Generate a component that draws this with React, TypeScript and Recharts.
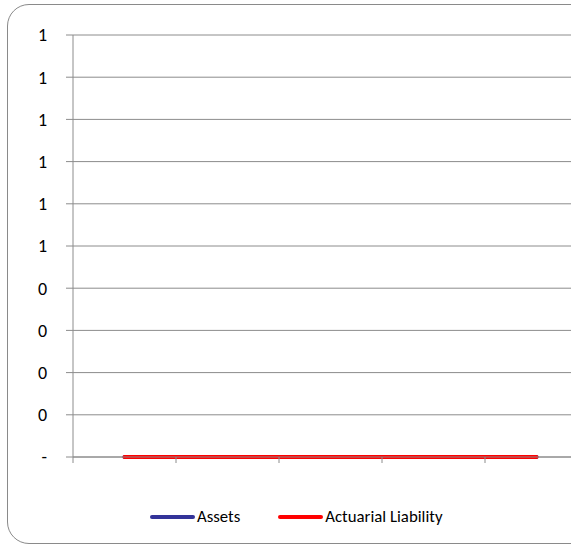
import { CartesianGrid, Legend, Line, LineChart, XAxis, YAxis } from "recharts";

// five periods, no labels shown on the axis
const positions = [0.5, 1.5, 2.5, 3.5, 4.5];
const assets = [0, 0, 0, 0, 0];
const liability = [0, 0, 0, 0, 0];
const yTicks = [0, 0.1, 0.2, 0.3, 0.4, 0.5, 0.6, 0.7, 0.8, 0.9, 1];
const xTicks = [0, 1, 2, 3, 4, 5];

const series = [
  { key: "assets", name: "Assets", color: "#333399" },
  { key: "liability", name: "Actuarial Liability", color: "#ff0000" },
];

const data = positions.map((p, i) => ({ pos: p, assets: assets[i], liability: liability[i] }));

const font = "Carlito, Calibri, Lato, sans-serif";

function ChartLegend() {
  return (
    <div style={{ display: "flex", justifyContent: "flex-start", paddingLeft: 150, paddingTop: 19, fontFamily: font, fontSize: 16.8, color: "#000" }}>
      {series.map((s, i) => (
        <div key={s.key} style={{ display: "flex", alignItems: "center", marginRight: i === 0 ? 38 : 0 }}>
          <span style={{ width: 45, height: 4, borderRadius: 2, background: s.color, display: "inline-block", marginRight: 2 }} />
          <span>{s.name}</span>
        </div>
      ))}
    </div>
  );
}

export default function App() {
  return (
    <div style={{ position: "fixed", left: 0, top: 0, width: 571, height: 546, overflow: "hidden", background: "#fff" }}>
      <div
        style={{
          position: "absolute",
          left: 7,
          top: 4,
          width: 700,
          height: 540,
          border: "1px solid #8a8a8a",
          borderRadius: 22,
          boxSizing: "border-box",
        }}
      />
      <div style={{ position: "absolute", left: 0, top: 0 }}>
        <LineChart width={600} height={546} data={data} margin={{ top: 35, right: 12, bottom: 0, left: 0 }}>
          <CartesianGrid vertical={false} stroke="#8c8c8c" strokeWidth={1} />
          <XAxis
            type="number"
            dataKey="pos"
            domain={[0, 5]}
            ticks={xTicks}
            tickFormatter={() => ""}
            stroke="#8c8c8c"
            tickSize={6}
            height={30}
          />
          <YAxis
            domain={[0, 1]}
            ticks={yTicks}
            width={73}
            stroke="#8c8c8c"
            tickSize={7}
            tickMargin={19}
            tickFormatter={(v: number) => (v === 0 ? "-" : String(Math.round(v + 1e-9)))}
            tick={{ fill: "#000", fontSize: 18, fontFamily: font }}
          />
          <Legend verticalAlign="bottom" height={59} content={() => <ChartLegend />} />
          {series.map((s) => (
            <Line
              key={s.key}
              dataKey={s.key}
              name={s.name}
              stroke={s.color}
              strokeWidth={4}
              strokeLinecap="round"
              dot={false}
              activeDot={false}
              isAnimationActive={false}
            />
          ))}
        </LineChart>
      </div>
    </div>
  );
}
